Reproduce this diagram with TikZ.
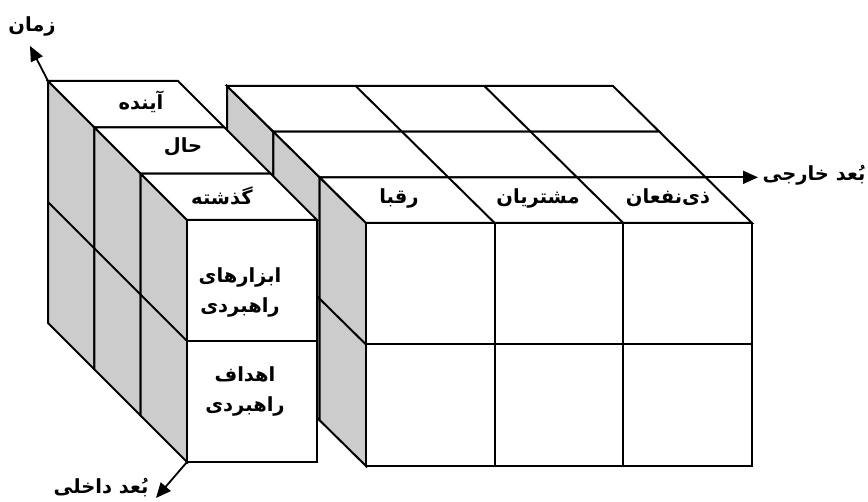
\documentclass[tikz,border=0pt]{standalone}
\usepackage{fontspec}
\usetikzlibrary{arrows.meta}
\newfontfamily\arabicfont[Script=Arabic]{DejaVu Sans}
\TeXXeTstate=1
\newcommand\rtltext[1]{\beginR #1\endR}
\definecolor{sidegray}{RGB}{204,204,204}
\tikzset{
  edge/.style={draw=black, line width=2pt, line join=miter},
  side/.style={edge, fill=sidegray},
  topf/.style={edge, fill=white},
  lbl/.style={font=\arabicfont\bfseries\fontsize{19.5}{30}\selectfont, align=center, inner sep=0pt},
  axis/.style={line width=1.8pt, -{Triangle[length=15pt,width=13pt]}},
}
% #1,#2 back-top-left corner, #3 width, #4 height, #5,#6 depth offset
\newcommand\drawslice[6]{%
  \draw[side] (#1,#2) -- ++(#5,#6) -- ++(0,#4) -- ++(-#5,-#6) -- cycle;
  \draw[edge] (#1,{#2+#4/2}) -- ++(#5,#6);
  \draw[topf] (#1,#2) -- ++(#3,0) -- ++(#5,#6) -- ++(-#3,0) -- cycle;
}
\begin{document}
\begin{tikzpicture}[x=1pt,y=-1pt]
\useasboundingbox (0,0) rectangle (868,502);
% ---------- right cube (drawn first) ----------
\drawslice{227}{86}{386}{243}{46.33}{45.67}
\drawslice{273.33}{131.67}{386}{243}{46.33}{45.67}
\drawslice{319.67}{177.33}{386}{243}{46.33}{45.67}
\foreach \k in {0,1,2}
  \foreach \j in {1,2}
    \draw[edge] ({227+\k*46.33+\j*386/3},{86+\k*45.67}) -- ++(46.33,45.67);
\draw[topf] (366,223) rectangle (752,466);
\draw[edge] (366,344.5) -- (752,344.5);
\draw[edge] (494.67,223) -- (494.67,466);
\draw[edge] (623.33,223) -- (623.33,466);
% ---------- left cube ----------
\drawslice{48}{81}{130}{242}{46.33}{46.33}
\drawslice{94.33}{127.33}{130}{242}{46.33}{46.33}
\drawslice{140.67}{173.67}{130}{242}{46.33}{46.33}
\draw[topf] (187,220) rectangle (317,462);
\draw[edge] (187,341) -- (317,341);
% ---------- axes ----------
\coordinate (ltop) at (48,81);
\coordinate (ltip) at (30,46);
\coordinate (lbot) at (187,462);
\coordinate (btip) at (156,498);
\coordinate (rstart) at (705.67,177.33);
\coordinate (rtip) at (758,177.33);
\draw[axis] (ltop) -- (ltip);
\draw[axis] (lbot) -- (btip);
\draw[axis] (rstart) -- (rtip);
% ---------- labels ----------
\node[lbl] (zaman) at (32,26) {\rtltext{زمان}};
\node[lbl] (dakheli) at (101,488) {\rtltext{بُعد داخلی}};
\node[lbl] (khareji) at (814,175) {\rtltext{بُعد خارجی}};
\node[lbl] (ayandeh) at (141,102) {\rtltext{آینده}};
\node[lbl] (hal) at (183,147) {\rtltext{حال}};
\node[lbl] (gozashteh) at (222,196) {\rtltext{گذشته}};
\node[lbl] (abzar) at (240,292) {\rtltext{ابزارهای}\\\rtltext{راهبردی}};
\node[lbl] (ahdaf) at (245,391) {\rtltext{اهداف}\\\rtltext{راهبردی}};
\node[lbl] (roqaba) at (399,198) {\rtltext{رقبا}};
\node[lbl] (moshtarian) at (538,198) {\rtltext{مشتریان}};
\node[lbl] (zinafan) at (668,198) {\rtltext{ذی‌نفعان}};
\end{tikzpicture}
\end{document}
